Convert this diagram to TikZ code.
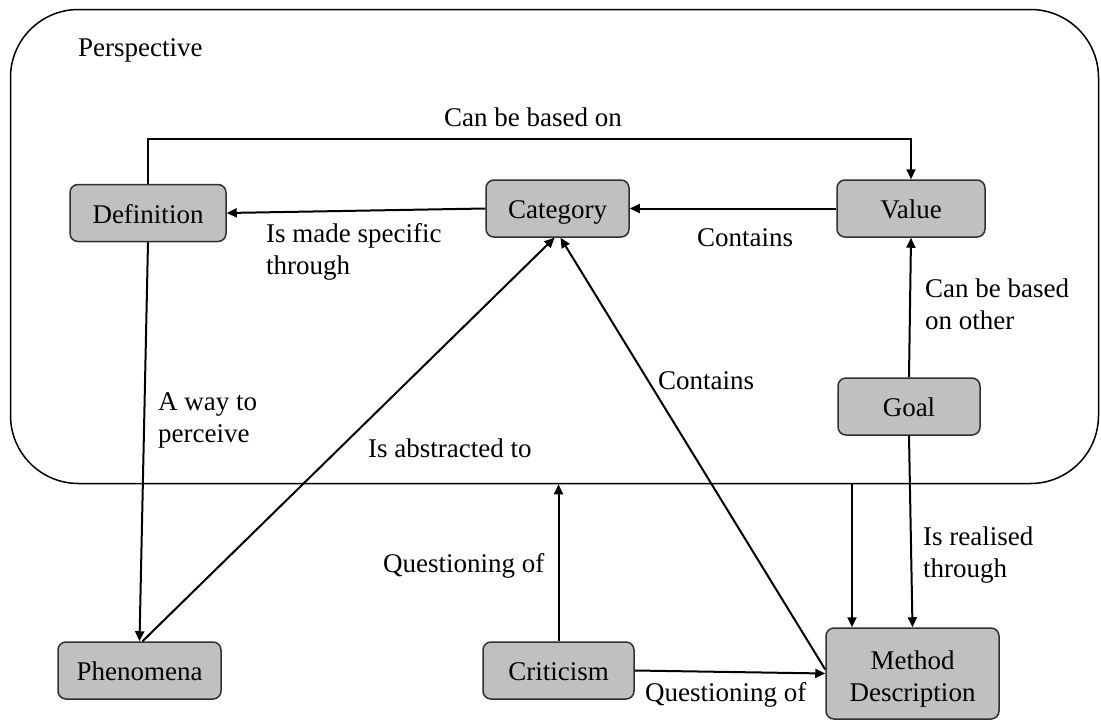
\documentclass[tikz,border=0pt]{standalone}
\usepackage{fontspec}
\setmainfont{Liberation Serif}
\usetikzlibrary{arrows.meta}
\definecolor{boxfill}{HTML}{C0C0C0}
\definecolor{boxline}{HTML}{303030}
\newcommand\diagfont{\fontsize{27}{32}\selectfont}
\begin{document}
\begin{tikzpicture}[x=1pt,y=-1pt,
  box/.style={draw=boxline, fill=boxfill, line width=1.5pt, rounded corners=8pt,
    inner sep=0pt, align=center, font=\diagfont, minimum height=57pt},
  onebox/.style={box, text height=20pt, text depth=0pt},
  conn/.style={line width=2pt, draw=black},
  arr/.style={conn, -{Triangle[length=10pt,width=9pt]}},
  lbl/.style={font=\diagfont, inner sep=0pt, anchor=west, align=left}]
\useasboundingbox (0,0) rectangle (1101,720);

% outer "Perspective" frame
\node[draw=black, line width=1.5pt, rounded corners=68pt, minimum width=1088pt,
  minimum height=474pt, inner sep=0pt] (persp) at (554.5,246.5) {};
\node[lbl] (plabel) at (78,50) {Perspective};

% concept boxes
\node[onebox, minimum width=156pt] (def)  at (148,213)     {Definition};
\node[onebox, minimum width=143pt] (cat)  at (557.5,208.5) {Category};
\node[onebox, minimum width=148pt] (val)  at (911,208.5)   {Value};
\node[onebox, minimum width=142pt] (goal) at (909,406.5)   {Goal};
\node[onebox, minimum width=163pt] (phen) at (139.5,670.5) {Phenomena};
\node[onebox, minimum width=151pt] (crit) at (558.5,670.5) {Criticism};
\node[box, minimum width=173pt, minimum height=91pt] (meth) at (912.5,673.5)
  {\rule{0pt}{30pt}Method\\Description};

% helper points
\coordinate (toprail) at (0,139);
\coordinate (methin) at ([xshift=-60.5pt]meth.north);

% connectors
\draw[arr] (def.north) |- (toprail -| val.north) -- (val.north);
\draw[arr] (cat.west) -- (def.east);
\draw[arr] (val.west) -- (cat.east);
\draw[arr] (goal.north) -- (val.south);
\draw[arr] (def.south) -- (phen.north);
\draw[arr] ([xshift=3pt]phen.north) -- ([xshift=-3pt]cat.south);
\draw[arr] ([yshift=4pt]meth.west) -- ([xshift=3pt]cat.south);
\draw[arr] (crit.east) -- (meth.west);
\draw[arr] (crit.north) -- (crit.north |- persp.south);
\draw[arr] (methin |- persp.south) -- (methin);
\draw[arr] (goal.south) -- (meth.north);

% connector labels
\node[font=\diagfont, inner sep=0pt] (l1) at (533,117) {Can be based on};
\node[lbl] (l2) at (266,252) {Is made specific\\through};
\node[lbl] (l3) at (697,238) {Contains};
\node[lbl] (l4) at (925,304) {Can be based\\on other};
\node[lbl] (l5) at (658,381) {Contains};
\node[lbl] (l6) at (158,420) {A way to\\perceive};
\node[lbl] (l7) at (368,448) {Is abstracted to};
\node[lbl] (l8) at (383,566) {Questioning of};
\node[lbl] (l9) at (923,555) {Is realised\\through};
\node[lbl] (l10) at (645,695) {Questioning of};
\end{tikzpicture}
\end{document}
